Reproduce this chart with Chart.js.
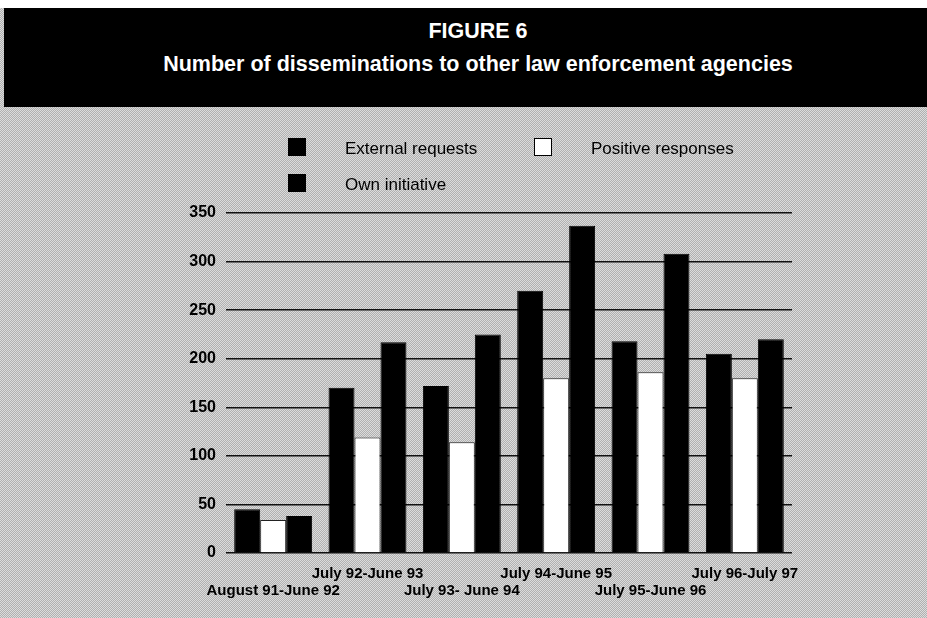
<!DOCTYPE html>
<html>
<head>
<meta charset="utf-8">
<script src="https://cdn.jsdelivr.net/npm/chart.js@4/dist/chart.umd.min.js"></script>
<style>
  html, body { margin: 0; padding: 0; width: 927px; height: 618px; overflow: hidden; background: #fff; }
  #paper {
    position: absolute; left: 0; top: 8px; width: 927px; height: 610px;
    background-color: #c6c6c6;
    background-image: repeating-conic-gradient(#b0b0b0 0 25%, #dcdcdc 0 50%);
    background-size: 2px 2px;
  }
  #band {
    position: absolute; left: 4px; top: 8px; width: 923px; height: 99px; background: #000;
  }
  .head {
    position: absolute; left: 0; width: 956px; text-align: center; color: #fff;
    font-family: "Liberation Sans", Arial, sans-serif; font-weight: bold;
    line-height: 1; white-space: nowrap;
  }
  #fig { top: 21px; font-size: 21.5px; }
  #sub { top: 54px; font-size: 21.5px; }
  #wrap { position: absolute; left: 0; top: 0; width: 927px; height: 618px; }
</style>
</head>
<body>
<div id="paper"></div>
<div id="band"></div>
<div class="head" id="fig">FIGURE 6</div>
<div class="head" id="sub">Number of disseminations to other law enforcement agencies</div>
<div id="wrap"><canvas id="chart" width="927" height="618"></canvas></div>
<script>
// Reporting periods and yearly dissemination counts
const periods = [
  'August 91-June 92',
  'July 92-June 93',
  'July 93- June 94',
  'July 94-June 95',
  'July 95-June 96',
  'July 96-July 97'
];
const externalRequests  = [45, 170, 172, 270, 218, 205];
const positiveResponses = [34, 119, 114, 180, 186, 180];
const ownInitiative     = [38, 217, 225, 337, 308, 220];
const yTickValues = [0, 50, 100, 150, 200, 250, 300, 350];

const FONT = '"Liberation Sans", Arial, sans-serif';

// Hand-placed key: two rows, boxes followed by the series names
const keyPlugin = {
  id: 'seriesKey',
  afterDraw(chart, args, opts) {
    const ctx = chart.ctx;
    ctx.save();
    opts.items.forEach(it => {
      const ds = chart.data.datasets[it.dataset];
      ctx.fillStyle = ds.backgroundColor;
      ctx.fillRect(it.x, it.y, opts.box, opts.box);
      ctx.strokeStyle = '#000';
      ctx.lineWidth = 1;
      ctx.strokeRect(it.x + 0.5, it.y + 0.5, opts.box - 1, opts.box - 1);
      ctx.fillStyle = '#000';
      ctx.font = '17px ' + FONT;
      ctx.textBaseline = 'alphabetic';
      ctx.textAlign = 'left';
      ctx.fillText(ds.label, it.x + opts.gap, it.y + opts.box - 2);
    });
    ctx.restore();
  }
};

new Chart(document.getElementById('chart'), {
  type: 'bar',
  data: {
    labels: periods,
    datasets: [
      { label: 'External requests', data: externalRequests, backgroundColor: '#000', borderColor: '#000', borderWidth: 1 },
      { label: 'Positive responses', data: positiveResponses, backgroundColor: '#fff', borderColor: '#222', borderWidth: 1 },
      { label: 'Own initiative', data: ownInitiative, backgroundColor: '#000', borderColor: '#000', borderWidth: 1 }
    ]
  },
  options: {
    responsive: false,
    animation: false,
    events: [],
    datasets: { bar: { categoryPercentage: 0.826, barPercentage: 1.0 } },
    layout: { padding: { left: 0, top: 213, right: 135, bottom: 0 } },
    plugins: {
      legend: { display: false },
      tooltip: { enabled: false },
      seriesKey: {
        box: 18, gap: 57,
        items: [
          { dataset: 0, x: 288, y: 138 },
          { dataset: 1, x: 534, y: 138 },
          { dataset: 2, x: 288, y: 174 }
        ]
      }
    },
    scales: {
      x: {
        grid: { display: false },
        border: { display: false },
        ticks: {
          color: '#000',
          autoSkip: false,
          maxRotation: 0,
          padding: 4,
          font: { family: FONT, weight: 'bold', size: 15, lineHeight: 1.15 },
          callback: (v, i) => (i % 2 === 0 ? ['', periods[i]] : [periods[i]])
        },
        afterFit: s => { s.height = 65; }
      },
      y: {
        min: 0, max: 350,
        afterBuildTicks: s => { s.ticks = yTickValues.map(v => ({ value: v })); },
        grid: { color: '#111', lineWidth: 1.5, drawTicks: false },
        border: { display: false },
        ticks: {
          color: '#000',
          padding: 10,
          font: { family: FONT, weight: 'bold', size: 16 }
        },
        afterFit: s => { s.width = 226; }
      }
    }
  },
  plugins: [keyPlugin]
});
</script>
</body>
</html>
